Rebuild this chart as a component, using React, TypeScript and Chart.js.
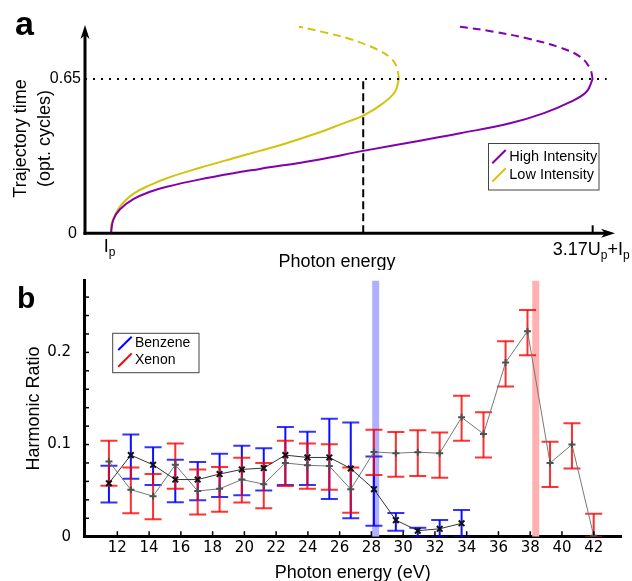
import React, { useEffect, useRef } from 'react';
import { Chart, registerables } from 'chart.js';

Chart.register(...registerables);

// ---------------- Panel a data ----------------
const E_AXIS_MIN = -0.171;
const E_AXIS_MAX = 3.317;
const T_AXIS_MAX = 0.877;
const ENERGY_TICKS = [0, 3.17];
const ENERGY_TICK_LABELS = ['I_p', '3.17U_p+I_p'];
const TIME_TICKS = [0, 0.65];
const TIME_TICK_LABELS = ['0', '0.65'];
const CUTOFF_TIME = 0.65;
const GUIDE_END_E = 3.262;
const LOW_MARK_E = 1.66;
const INTENSITY_LABELS = ['High Intensity', 'Low Intensity'];

const HIGH_SHORT_E = [0, 0.015, 0.059, 0.147, 0.257, 0.367, 0.586, 0.805, 0.98, 1.354, 1.66, 2.033, 2.297, 2.626, 2.845, 3.02, 3.13, 3.17];
const HIGH_SHORT_T = [0, 0.056, 0.101, 0.144, 0.175, 0.196, 0.227, 0.253, 0.271, 0.309, 0.347, 0.39, 0.421, 0.463, 0.505, 0.552, 0.596, 0.65];
const HIGH_LONG_E = [3.17, 3.152, 3.086, 2.955, 2.736, 2.516, 2.297];
const HIGH_LONG_T = [0.65, 0.695, 0.744, 0.782, 0.821, 0.849, 0.87];
const LOW_SHORT_E = [0, 0.005, 0.059, 0.147, 0.257, 0.367, 0.586, 0.805, 0.98, 1.134, 1.354, 1.529, 1.66, 1.792, 1.869, 1.895];
const LOW_SHORT_T = [0, 0.042, 0.112, 0.166, 0.203, 0.232, 0.276, 0.316, 0.347, 0.375, 0.421, 0.463, 0.495, 0.548, 0.596, 0.65];
const LOW_LONG_E = [1.895, 1.88, 1.836, 1.748, 1.573, 1.397, 1.237];
const LOW_LONG_T = [0.65, 0.702, 0.741, 0.775, 0.818, 0.847, 0.87];

// ---------------- Panel b data ----------------
const EV_AXIS_MIN = 9.9;
const EV_AXIS_MAX = 43.75;
const RATIO_AXIS_MAX = 0.278;
const EV_TICKS = [12, 14, 16, 18, 20, 22, 24, 26, 28, 30, 32, 34, 36, 38, 40, 42];
const RATIO_TICKS = [0, 0.1, 0.2];
const RATIO_MINOR_TICKS = [0.02, 0.04, 0.06, 0.08, 0.12, 0.14, 0.16, 0.18, 0.22, 0.24, 0.26];
const GAS_LABELS = ['Benzene', 'Xenon'];
const BAND_ENERGY = [28.27, 38.35];

const HARMONIC_ENERGY = [11.47, 12.85, 14.25, 15.65, 17.06, 18.44, 19.84, 21.22, 22.58, 23.97, 25.35, 26.7, 28.16, 29.54, 30.92, 32.3, 33.68, 35.06, 36.45, 37.83, 39.25, 40.63, 42.0];

const BENZENE_RATIO = [0.058, 0.0885, 0.078, 0.062, 0.062, 0.068, 0.073, 0.0745, 0.0885, 0.086, 0.086, 0.074, 0.0515, 0.018, 0.0065, 0.0086, 0.0145];
const BENZENE_HIGH = [0.077, 0.111, 0.097, 0.0835, 0.081, 0.09, 0.0986, 0.096, 0.119, 0.114, 0.128, 0.124, 0.087, 0.0256, 0.0097, 0.018, 0.029];
const BENZENE_LOW = [0.037, 0.063, 0.056, 0.0375, 0.0396, 0.043, 0.045, 0.05, 0.056, 0.056, 0.041, 0.02, 0.012, 0.0065, 0.0, 0.0, 0.0];

const XENON_RATIO = [0.0817, 0.051, 0.044, 0.078, 0.0496, 0.052, 0.062, 0.057, 0.08, 0.0775, 0.0766, 0.0515, 0.092, 0.0906, 0.0917, 0.0906, 0.1295, 0.1115, 0.189, 0.223, 0.08, 0.1, 0.001];
const XENON_HIGH = [0.104, 0.075, 0.068, 0.101, 0.073, 0.0755, 0.0856, 0.08, 0.104, 0.101, 0.1003, 0.075, 0.116, 0.1137, 0.1154, 0.113, 0.153, 0.135, 0.212, 0.246, 0.103, 0.123, 0.025];
const XENON_LOW = [0.0554, 0.0255, 0.0188, 0.052, 0.024, 0.027, 0.037, 0.031, 0.055, 0.052, 0.051, 0.026, 0.067, 0.065, 0.066, 0.064, 0.104, 0.086, 0.163, 0.197, 0.054, 0.074, 0.0];

// ---------------- helpers ----------------
const PURPLE = '#8400ac';
const YELLOW = '#d4c30c';
const SANS = '"Liberation Sans", Arial, sans-serif';
const DEJAVU = '"DejaVu Sans", sans-serif';

const pts = (xs: number[], ys: number[]) => ys.map((y, i) => ({ x: xs[i], y }));
const stems = (xs: number[], lo: number[], hi: number[]) =>
  lo.flatMap((l, i) => [{ x: xs[i], y: l }, { x: xs[i], y: hi[i] }, { x: xs[i], y: null as any }]);
const caps = (xs: number[], lo: number[], hi: number[]) => [...pts(xs, lo), ...pts(xs, hi)];

function drawSubText(ctx: CanvasRenderingContext2D, text: string, cx: number, baseline: number, size: number, subSize: number) {
  const parts: { t: string; sub: boolean }[] = [];
  let i = 0;
  let cur = '';
  while (i < text.length) {
    if (text[i] === '_') {
      if (cur) parts.push({ t: cur, sub: false });
      cur = '';
      parts.push({ t: text[i + 1], sub: true });
      i += 2;
    } else {
      cur += text[i];
      i++;
    }
  }
  if (cur) parts.push({ t: cur, sub: false });
  let total = 0;
  const widths = parts.map((p) => {
    ctx.font = `${p.sub ? subSize : size}px ${SANS}`;
    const w = ctx.measureText(p.t).width;
    total += w;
    return w;
  });
  let x = cx - total / 2;
  ctx.textAlign = 'left';
  ctx.textBaseline = 'alphabetic';
  parts.forEach((p, k) => {
    ctx.font = `${p.sub ? subSize : size}px ${SANS}`;
    ctx.fillText(p.t, x, p.sub ? baseline + 4 : baseline);
    x += widths[k];
  });
}

const panelAPlugin = {
  id: 'panelA',
  afterDatasetsDraw(chart: any) {
    const { ctx, chartArea: ca, scales } = chart;
    const xs = scales.x;
    const ys = scales.y;
    const x0 = ca.left;
    const y0 = ca.bottom;
    ctx.save();
    ctx.strokeStyle = '#000';
    ctx.fillStyle = '#000';
    ctx.lineWidth = 3;
    ctx.lineCap = 'butt';
    ctx.beginPath();
    ctx.moveTo(x0, y0 + 1.5);
    ctx.lineTo(x0, ca.top + 10);
    ctx.stroke();
    ctx.beginPath();
    ctx.moveTo(x0 - 1.5, y0);
    ctx.lineTo(ca.right - 10, y0);
    ctx.stroke();
    // arrowheads
    ctx.beginPath();
    ctx.moveTo(x0, ca.top);
    ctx.lineTo(x0 - 4.5, ca.top + 14);
    ctx.lineTo(x0, ca.top + 10);
    ctx.lineTo(x0 + 4.5, ca.top + 14);
    ctx.closePath();
    ctx.fill();
    ctx.beginPath();
    ctx.moveTo(ca.right, y0);
    ctx.lineTo(ca.right - 14, y0 - 4.5);
    ctx.lineTo(ca.right - 10, y0);
    ctx.lineTo(ca.right - 14, y0 + 4.5);
    ctx.closePath();
    ctx.fill();
    // x tick marks + labels
    ENERGY_TICKS.forEach((v, i) => {
      const px = xs.getPixelForValue(v);
      if (v > 0) {
        ctx.lineWidth = 2;
        ctx.beginPath();
        ctx.moveTo(px, y0);
        ctx.lineTo(px, y0 - 8);
        ctx.stroke();
      }
      drawSubText(ctx, ENERGY_TICK_LABELS[i], px - 1.5, y0 + (i === 0 ? 18.5 : 22), 18, 12);
    });
    // y tick labels
    ctx.font = `16px ${SANS}`;
    ctx.textAlign = 'right';
    ctx.textBaseline = 'middle';
    TIME_TICKS.forEach((v, i) => {
      ctx.fillText(TIME_TICK_LABELS[i], x0 - (v === 0 ? 8 : 4), ys.getPixelForValue(v));
    });
    // axis titles
    ctx.font = `18px ${SANS}`;
    ctx.textAlign = 'center';
    ctx.textBaseline = 'alphabetic';
    ctx.fillText('Photon energy', 337, 266.5);
    ctx.save();
    ctx.translate(26.2, 138.5);
    ctx.rotate(-Math.PI / 2);
    ctx.fillText('Trajectory time', 0, 0);
    ctx.restore();
    ctx.save();
    ctx.translate(49.8, 138.5);
    ctx.rotate(-Math.PI / 2);
    ctx.fillText('(opt. cycles)', 0, 0);
    ctx.restore();
    // panel letter
    ctx.font = `bold 34px ${SANS}`;
    ctx.textAlign = 'left';
    ctx.fillText('a', 15, 35);
    // legend
    ctx.lineWidth = 1;
    ctx.strokeStyle = '#444';
    ctx.fillStyle = '#fff';
    ctx.fillRect(488.5, 143.5, 110.5, 46.5);
    ctx.strokeRect(488.5, 143.5, 110.5, 46.5);
    const colors = [PURPLE, YELLOW];
    ctx.font = `14.5px ${SANS}`;
    ctx.textBaseline = 'middle';
    INTENSITY_LABELS.forEach((lab, i) => {
      const cy = 156.7 + i * 18.3;
      ctx.strokeStyle = colors[i];
      ctx.lineWidth = 2;
      ctx.beginPath();
      ctx.moveTo(492.3, cy + 6.6);
      ctx.lineTo(505.7, cy - 6.7);
      ctx.stroke();
      ctx.fillStyle = '#000';
      ctx.fillText(lab, 509.3, cy);
    });
    ctx.restore();
  },
};

const panelBPlugin = {
  id: 'panelB',
  afterDraw(chart: any) {
    const { ctx, chartArea: ca, scales } = chart;
    const xs = scales.x;
    const ys = scales.y;
    ctx.save();
    ctx.strokeStyle = '#000';
    ctx.lineWidth = 1.5;
    EV_TICKS.forEach((v) => {
      const px = xs.getPixelForValue(v);
      ctx.beginPath();
      ctx.moveTo(px, ca.bottom - 1.5);
      ctx.lineTo(px, ca.bottom - 5.5);
      ctx.stroke();
    });
    [...RATIO_TICKS, ...RATIO_MINOR_TICKS].forEach((v) => {
      const py = ys.getPixelForValue(v);
      ctx.beginPath();
      ctx.moveTo(ca.left + 1.5, py);
      ctx.lineTo(ca.left + 5, py);
      ctx.stroke();
    });
    // panel letter
    ctx.fillStyle = '#000';
    ctx.font = `bold 30px ${SANS}`;
    ctx.textAlign = 'left';
    ctx.textBaseline = 'alphabetic';
    ctx.fillText('b', 17, 38.3);
    // legend
    const bx = 112.7, by = 63.3;
    ctx.lineWidth = 1;
    ctx.strokeStyle = '#444';
    ctx.fillStyle = '#fff';
    ctx.fillRect(bx, by, 86.3, 39.4);
    ctx.strokeRect(bx, by, 86.3, 39.4);
    const colors = ['#0000ff', '#ff0000'];
    ctx.font = `14px ${SANS}`;
    ctx.textBaseline = 'middle';
    GAS_LABELS.forEach((lab, i) => {
      const cy = by + 10 + i * 16.7;
      ctx.strokeStyle = colors[i];
      ctx.lineWidth = 2;
      ctx.beginPath();
      ctx.moveTo(118.3, cy + 6.7);
      ctx.lineTo(131.7, cy - 6.6);
      ctx.stroke();
      ctx.fillStyle = '#000';
      ctx.fillText(lab, 135, cy);
    });
    ctx.restore();
  },
};

function fixSize(dim: 'width' | 'height', size: number) {
  return (s: any) => {
    s[dim] = size;
    s.paddingLeft = 0;
    s.paddingRight = 0;
    s.paddingTop = 0;
    s.paddingBottom = 0;
  };
}

export default function App() {
  const refA = useRef<HTMLCanvasElement>(null);
  const refB = useRef<HTMLCanvasElement>(null);

  useEffect(() => {
    const lineDs = (data: any[], color: string, dash: number[] = [], width = 2, extra: any = {}) => ({
      data,
      showLine: true,
      borderColor: color,
      borderWidth: width,
      borderDash: dash,
      pointRadius: 0,
      fill: false,
      ...extra,
    });

    const chartA = new Chart(refA.current!, {
      type: 'scatter',
      data: {
        datasets: [
          lineDs([{ x: E_AXIS_MIN, y: CUTOFF_TIME }, { x: GUIDE_END_E, y: CUTOFF_TIME }], '#000', [2, 6], 2),
          lineDs([{ x: LOW_MARK_E, y: 0 }, { x: LOW_MARK_E, y: CUTOFF_TIME }], '#000', [8, 4], 2),
          lineDs(pts(HIGH_SHORT_E, HIGH_SHORT_T), PURPLE, [], 2, { tension: 0.4 }),
          lineDs(pts(HIGH_LONG_E, HIGH_LONG_T), PURPLE, [8, 5], 2, { tension: 0.4 }),
          lineDs(pts(LOW_SHORT_E, LOW_SHORT_T), YELLOW, [], 2, { tension: 0.4 }),
          lineDs(pts(LOW_LONG_E, LOW_LONG_T), YELLOW, [8, 5], 2, { tension: 0.4 }),
        ],
      },
      options: {
        responsive: false,
        animation: false,
        devicePixelRatio: 1,
        events: [],
        layout: { padding: { left: 85, right: 17, top: 25, bottom: 36.7 } },
        scales: {
          x: { type: 'linear', display: false, min: E_AXIS_MIN, max: E_AXIS_MAX },
          y: { type: 'linear', display: false, min: 0, max: T_AXIS_MAX },
        },
        plugins: { legend: { display: false }, tooltip: { enabled: false } },
      },
      plugins: [panelAPlugin],
    });

    const chartB = new Chart(refB.current!, {
      type: 'scatter',
      data: {
        datasets: [
          lineDs([{ x: BAND_ENERGY[0], y: 0 }, { x: BAND_ENERGY[0], y: RATIO_AXIS_MAX }], '#b0b0ff', [], 7, { order: 20 }),
          lineDs([{ x: BAND_ENERGY[1], y: 0 }, { x: BAND_ENERGY[1], y: RATIO_AXIS_MAX }], '#ffb0b0', [], 7, { order: 21 }),
          lineDs(stems(HARMONIC_ENERGY, BENZENE_LOW, BENZENE_HIGH), 'rgba(0,0,255,0.95)', [], 2, { order: 10, spanGaps: false }),
          {
            data: caps(HARMONIC_ENERGY, BENZENE_LOW, BENZENE_HIGH),
            showLine: false,
            pointStyle: 'line',
            pointRadius: 8.5,
            pointBorderWidth: 2,
            pointBorderColor: 'rgba(0,0,255,0.8)',
            order: 10,
          },
          lineDs(stems(HARMONIC_ENERGY, XENON_LOW, XENON_HIGH), 'rgba(255,0,0,0.82)', [], 2, { order: 8, spanGaps: false }),
          {
            data: caps(HARMONIC_ENERGY, XENON_LOW, XENON_HIGH),
            showLine: false,
            pointStyle: 'line',
            pointRadius: 8.5,
            pointBorderWidth: 2,
            pointBorderColor: 'rgba(255,0,0,0.8)',
            order: 8,
          },
          lineDs(pts(HARMONIC_ENERGY, XENON_RATIO), '#777', [], 1, {
            order: 2,
            pointStyle: 'cross',
            pointRadius: 3.5,
            pointBorderWidth: 2,
            pointBorderColor: '#505050',
          }),
          lineDs(pts(HARMONIC_ENERGY, BENZENE_RATIO), '#333', [], 1, {
            order: 1,
            pointStyle: 'crossRot',
            pointRadius: 4,
            pointBorderWidth: 2,
            pointBorderColor: '#111',
          }),
        ],
      },
      options: {
        responsive: false,
        animation: false,
        devicePixelRatio: 1,
        events: [],
        layout: { padding: { left: 0, right: 9, top: 9, bottom: 0 } },
        scales: {
          x: {
            type: 'linear',
            min: EV_AXIS_MIN,
            max: EV_AXIS_MAX,
            afterBuildTicks: (s: any) => {
              s.ticks = EV_TICKS.map((v) => ({ value: v }));
            },
            afterFit: fixSize('height', 44.3),
            grid: { display: false },
            border: { display: true, color: '#000', width: 3 },
            ticks: {
              autoSkip: false,
              maxRotation: 0,
              padding: -6,
              color: '#000',
              font: { family: DEJAVU, size: 15 },
              callback: (v: any) => String(v),
            },
            title: {
              display: true,
              text: 'Photon energy (eV)',
              color: '#000',
              font: { family: SANS, size: 18, lineHeight: 0.9 },
              padding: 0,
            },
          },
          y: {
            type: 'linear',
            min: 0,
            max: RATIO_AXIS_MAX,
            afterBuildTicks: (s: any) => {
              s.ticks = RATIO_TICKS.map((v) => ({ value: v }));
            },
            afterFit: fixSize('width', 84),
            grid: { display: false },
            border: { display: true, color: '#000', width: 3 },
            ticks: {
              padding: 5,
              color: '#000',
              font: { family: DEJAVU, size: 15 },
              callback: (v: any) => String(v),
            },
            title: {
              display: true,
              text: 'Harmonic Ratio',
              color: '#000',
              font: { family: SANS, size: 18, lineHeight: 1 },
              padding: { top: 25, bottom: 0 },
            },
          },
        },
        plugins: { legend: { display: false }, tooltip: { enabled: false } },
      },
      plugins: [panelBPlugin],
    });

    return () => {
      chartA.destroy();
      chartB.destroy();
    };
  }, []);

  return (
    <div style={{ position: 'absolute', left: 0, top: 0, width: 632, height: 581, background: '#fff' }}>
      <canvas ref={refA} width={632} height={270} style={{ position: 'absolute', left: 0, top: 0, width: 632, height: 270 }} />
      <canvas ref={refB} width={632} height={311} style={{ position: 'absolute', left: 0, top: 270, width: 632, height: 311 }} />
    </div>
  );
}
